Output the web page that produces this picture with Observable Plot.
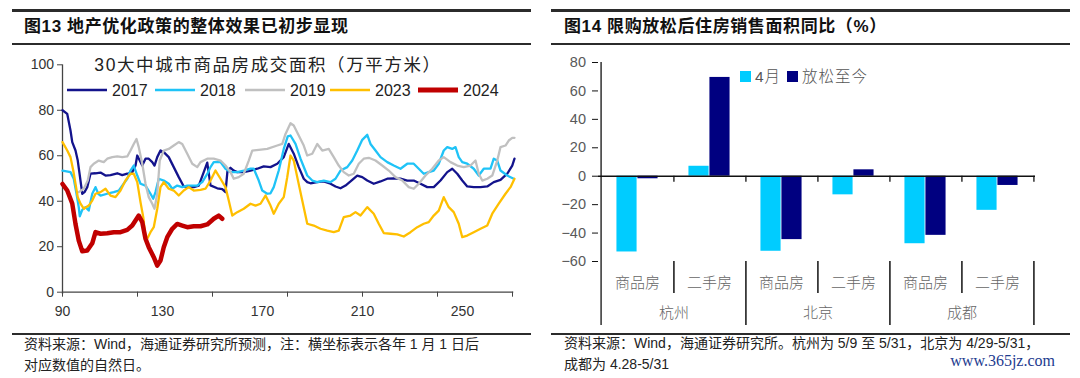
<!DOCTYPE html>
<html><head><meta charset="utf-8">
<script src="https://cdn.jsdelivr.net/npm/d3@7"></script>
<script src="https://cdn.jsdelivr.net/npm/@observablehq/plot@0.6"></script>
<style>
html,body{margin:0;padding:0;background:#fff;}
body{width:1080px;height:378px;position:relative;overflow:hidden;font-family:"Liberation Sans","Noto Sans CJK SC",sans-serif;}
.rule{position:absolute;background:#2b2b2b;}
.title{position:absolute;font-family:"Liberation Sans","Noto Sans CJK SC",sans-serif;font-weight:bold;font-size:17px;color:#111;line-height:19px;white-space:nowrap;letter-spacing:0.6px;}
.note{position:absolute;font-family:"Liberation Sans","Noto Sans CJK SC",sans-serif;font-size:14px;color:#222;line-height:21px;white-space:nowrap;}
.chart{position:absolute;}
</style></head><body>
<div class="rule" style="left:12px;top:9px;width:519px;height:2.5px"></div>
<div class="rule" style="left:12px;top:43px;width:519px;height:1.5px"></div>
<div class="rule" style="left:12px;top:333px;width:519px;height:1.5px"></div>
<div class="rule" style="left:551px;top:9px;width:519px;height:2.5px"></div>
<div class="rule" style="left:551px;top:43px;width:519px;height:1.5px"></div>
<div class="rule" style="left:551px;top:333px;width:519px;height:1.5px"></div>
<div class="title" style="left:24px;top:17px">图13 地产优化政策的整体效果已初步显现</div>
<div class="title" style="left:564px;top:17px">图14 限购放松后住房销售面积同比（%）</div>
<div class="note" style="left:24px;top:334px">资料来源：Wind，海通证券研究所预测，注：横坐标表示各年 1 月 1 日后<br>对应数值的自然日。</div>
<div class="note" style="left:564px;top:333px">资料来源：Wind，海通证券研究所。杭州为 5/9 至 5/31，北京为 4/29-5/31，<br>成都为 4.28-5/31</div>
<div style="position:absolute;left:900px;top:352px;width:155px;text-align:right;font-family:'Liberation Serif','DejaVu Serif',serif;font-size:16px;color:#1d3b8f;">www.365jz.com</div>
<div id="left" class="chart" style="left:0;top:50px"></div>
<div id="right" class="chart" style="left:540px;top:50px"></div>
<div id="overlay"></div>
<script>
// ---------- Left chart data: [day, value] ----------
const s2017 = [[90,80],[91.9,78.4],[93.2,71.1],[93.9,66],[95.2,62.3],[96.1,57.9],[97.2,49.1],[97.9,43.3],[98.8,44],[99.9,46.2],[101.2,52.1],[103.2,52.3],[105.2,52.6],[107.2,51.3],[109.2,51.5],[111.9,52.3],[113.9,51.5],[115.9,52.1],[117.9,52.8],[119.2,55.7],[119.9,60.1],[120.9,57.9],[121.9,55.7],[123.2,58.7],[124.5,58.7],[125.9,57.2],[126.8,55.7],[127.9,59.4],[129.2,62.3],[130.5,61.6],[132.5,59.4],[134.5,55],[136.5,50.6],[138.5,46.5],[140.5,46.2],[142.5,46.2],[144.5,46.9],[146.5,52.8],[147.9,57],[149.2,47],[151.9,45.7],[153.9,45.3],[155.2,44],[156,53.5],[157.2,54.7],[158.5,53.5],[159.9,52.8],[162.5,52.8],[165.2,53.5],[167.9,54.3],[170.5,55.3],[173.2,55],[175.9,56.5],[178.5,59.4],[180.5,65.2],[182.5,60.9],[184.5,55],[186.5,49.9],[187.9,48.4],[189.2,47.9],[191.9,48.4],[194.5,48.7],[197.2,47.7],[199.2,46.5],[201.2,45.7],[203.2,46.9],[205.2,48.7],[207.9,51.3],[209.9,50.6],[211.9,49.1],[214.5,47.7],[217.2,48.7],[219.9,49.9],[222.5,50.1],[225.2,49.9],[227.9,49.1],[230.5,49.1],[233.2,47.7],[235.9,46.2],[238.5,46.2],[241.2,49.1],[243.9,52.8],[245.9,54.3],[247.9,52.1],[249.9,49.1],[251.9,46.5],[254.5,46.2],[257.2,46.2],[259.9,46.5],[262.5,48.4],[265.2,49.4],[267.9,52.1],[269.9,55.7],[270.8,58.7]];
const s2018 = [[90,53.5],[93.2,52.8],[94.5,49.9],[95.6,43.3],[96.5,37.4],[96.9,33.4],[97.9,36.2],[99.2,37.4],[100.5,35.9],[101.9,43.3],[103.2,46.2],[104.3,43.3],[105.2,42.5],[107.9,43.3],[110.5,44],[112.5,44.7],[113.9,46.9],[115.9,49.9],[117.2,53.5],[118.5,55.7],[119.9,51.3],[121.2,47.7],[123.2,46.9],[125.2,43.3],[126.3,41.1],[127.2,44],[128.5,49.9],[130.5,49.1],[132.5,47.7],[133.9,45.5],[135.9,46.9],[137.9,46.2],[139.9,46.9],[141.9,46.9],[143.9,46.9],[145.9,48.4],[147.9,52],[149.2,55],[150.5,57.2],[153.2,57.2],[155.2,54.3],[157.2,52.8],[159.9,52.8],[162.5,53.5],[165.2,54.3],[166.5,54.3],[168.5,49.1],[169.9,44.7],[171.9,43.3],[173.2,43.5],[174.5,46.2],[176.5,53.5],[178.5,63],[180.1,68.5],[181.2,68.9],[183.2,65.2],[185.2,58.7],[187.9,51.3],[189.9,49.1],[191.9,48.4],[194.5,49.1],[197.2,48.4],[199.2,49.9],[201.2,53.5],[203.9,55],[205.9,57.9],[207.9,62.3],[209.9,67],[211.9,69.2],[213.2,65.2],[215.2,62.3],[217.2,59.4],[219.9,57.2],[222.5,55.7],[225.2,54.3],[227.9,56.5],[230.5,56.5],[232.5,54.3],[234.5,52.1],[236.5,52.8],[238.5,53.5],[240.5,56.5],[242.5,62.3],[243.9,63.8],[245.9,63],[247.2,63.8],[248.5,59.4],[249.9,57.2],[251.9,56.5],[254.5,54.3],[256.5,51.3],[258.5,54.3],[261.2,54.3],[262.5,58.7],[263.9,57.9],[265.2,53.5],[267.9,51.3],[270.5,49.9]];
const s2019 = [[96.5,44],[98.5,45.5],[100.1,49.1],[101.2,55],[102.5,56.5],[104.5,57.9],[106.5,57.2],[107.9,58.7],[109.9,59.4],[111.9,59.7],[113.9,59.4],[115.9,59.7],[117.2,62.3],[118.5,65.2],[119.6,67.4],[120.5,63.8],[121.9,56.5],[123.2,47.7],[124.5,41.8],[125.9,38.9],[126.8,36.7],[127.9,43.3],[128.9,57.9],[130.5,62.3],[132.5,63],[134.5,64.5],[136.5,66],[137.9,65.2],[139.9,60.9],[141.9,56.5],[143.9,55],[145.2,57.2],[147.9,58.7],[150.5,58.7],[153.2,57.9],[155.2,55.7],[157.2,52.8],[158.5,49.9],[160.5,50.6],[162.5,52.1],[164.5,57.9],[165.9,62.3],[168.5,62.6],[171.9,63],[175.9,64.5],[177.9,65.2],[179.2,69.6],[181.2,74.3],[182.5,73.3],[184.5,68.9],[186.5,64.5],[187.9,60.1],[189.9,60.9],[191.9,65.2],[193.9,62.3],[196.5,63],[198.5,59.4],[200.5,55.7],[202.5,52.8],[204.5,51.3],[206.5,52.1],[208.5,56.5],[210.5,58.7],[212.5,59.1],[215.2,57.9],[217.9,55.7],[220.5,53.5],[223.2,50.6],[225.9,49.1],[228.5,46.2],[230.5,45.5],[232.5,47.7],[235.2,51.3],[237.9,54.3],[240.5,57.9],[242.5,59.4],[245.2,57.2],[247.9,55.7],[250.5,55],[253.2,55.7],[255.2,57.9],[256.5,52.1],[257.9,49.1],[259.9,49.9],[261.9,51.3],[263.9,57.9],[265.2,63.8],[267.2,64.5],[268.5,66.7],[269.9,67.9],[270.8,67.9]];
const s2023 = [[90,66],[91.9,62.3],[93.2,59.4],[94.3,53.5],[95.2,47.7],[96.1,41.8],[97.2,38.9],[98.5,36.7],[100.5,38.1],[101.9,40.3],[103.2,43.3],[105.2,44],[107.2,45.5],[109.2,42.5],[111.2,41.8],[113.2,44.7],[115.2,49.1],[117.2,52.1],[118.5,52.1],[119.9,48.4],[121.2,39.6],[122.3,33],[123.2,24.2],[123.9,23.5],[125.2,26.4],[126.5,28.6],[127.9,36.7],[129.2,46.2],[130.5,48.4],[132.5,45.5],[134.5,44.7],[136.5,42.5],[138.5,44.7],[140.5,46.2],[142.5,44.7],[145.2,45],[147.2,45.5],[149.2,49.1],[151.2,53.5],[153.2,49.9],[155.2,46.2],[156.5,40.3],[157.9,33.7],[159.9,35.2],[162.5,36.7],[165.2,38.9],[167.2,38.1],[169.2,38.9],[171.2,42.5],[173.2,38.1],[174.5,34.5],[176.5,38.9],[178.5,41.8],[179.9,50.6],[181.2,60.1],[182.5,57.9],[183.9,50.6],[185.9,40.3],[187.9,30.1],[190.5,29.3],[193.2,27.9],[195.9,27.1],[198.5,26.4],[200.5,27.1],[202.5,33],[205.2,33.7],[207.2,35.2],[209.2,33.7],[211.9,37.4],[214.5,34.5],[216.5,30.1],[218.5,26],[221.2,25.7],[223.9,25.4],[226.5,24.5],[229.2,26.4],[231.9,28.6],[234.5,30.1],[236.5,30.8],[238.5,33.7],[240.5,35.9],[242.5,41.8],[244.5,37.4],[246.5,35.2],[248.5,30.1],[249.9,24.2],[251.9,24.9],[254.5,26.4],[257.2,27.9],[259.9,29.3],[261.9,34.5],[264.5,38.9],[267.2,43.3],[269.2,46.2],[270.8,49.9]];
const s2024 = [[90,47.6],[91.9,44.7],[93.9,39],[95.2,30],[96.5,22.7],[97.9,18],[99.9,18.3],[101.9,21.5],[103.2,26.4],[105.2,25.7],[107.9,25.9],[110.5,26.4],[113.2,26.4],[115.9,27.4],[117.9,29.3],[119.2,31.5],[120.5,33.7],[121.9,30.8],[123.2,23.5],[124.5,19.8],[126.5,15.4],[127.9,11.7],[129.2,13.9],[130.5,19.8],[131.9,24.2],[133.9,27.9],[135.9,30],[137.9,29.3],[139.9,28.6],[142.5,29],[145.2,29],[147.9,29.8],[150.5,32.3],[152.5,33.7],[153.9,32.3]];
const years = ["2017","2018","2019","2023","2024"];
const yearColors = ["#13138c","#1fc3f7","#c0c0c0","#ffbf00","#c00000"];
const yearWidths = [2.3,2.3,2.3,2.3,4.5];
const xLabelTicks = [90,130,170,210,250];
const xMarkTicks = [90,120,150,180,210,240,270];
const yTicksLeft = [0,20,40,60,80,100];

// ---------- Right chart data ----------
const cities = ["杭州","北京","成都"];
const types = ["商品房","二手房"];
const seriesNames = ["4月","放松至今"];
const valApril = [-53.3, 7, -52.8, -13.1, -47.5, -24];
const valSince = [-1.8, 69.5, -44.6, 4.5, -41.6, -6.5];
const yTicksRight = [-60,-40,-20,0,20,40,60,80];

// ---------- Left chart ----------
const allSeries = [s2017, s2018, s2019, s2023, s2024];
const rows = allSeries.flatMap((s, k) => s.map(([d, v]) => ({year: years[k], day: d, value: v})));
const left = Plot.plot({
  width: 540, height: 280,
  marginLeft: 62, marginRight: 26.75, marginTop: 14.3, marginBottom: 38.3,
  x: {domain: [90, 270.5]},
  y: {domain: [0, 100]},
  style: {fontFamily: "Liberation Sans, Arial, sans-serif", fontSize: "14px", color: "#333", background: "transparent", overflow: "visible"},
  marks: [
    Plot.axisY({ticks: yTicksLeft, tickSize: 5, tickPadding: 3.5, fontSize: 14, label: null, stroke: "#444"}),
    Plot.axisX({ticks: xMarkTicks, tickSize: 5, tickFormat: () => "", label: null, stroke: "#444"}),
    Plot.axisX({ticks: xLabelTicks, tickSize: 0, tickPadding: 14, fontSize: 14, label: null}),
    Plot.ruleX([90], {y1: -1, y2: 100, stroke: "#444", strokeWidth: 1.3}),
    Plot.ruleY([0], {stroke: "#444", strokeWidth: 1.3}),
    ...years.map((yr, k) => Plot.line(rows.filter(r => r.year === yr), {
      x: "day", y: "value", stroke: yearColors[k], strokeWidth: yearWidths[k],
      strokeLinejoin: "round", strokeLinecap: "round"
    }))
  ]
});
document.getElementById("left").append(left);

// ---------- Right chart ----------
const cats = cities.flatMap(c => types.map(t => c + "|" + t));
const barRows = cats.map((k, i) => ({cat: k, city: k.split("|")[0], type: k.split("|")[1], april: valApril[i], since: valSince[i]}));
const rW = 540, rL = 58, rR = 45;
const step = (rW - rL - rR) / cats.length;
const barW = step * 0.288;
const outer = (step - 2 * barW) / 2;
const right = Plot.plot({
  width: rW, height: 280,
  marginLeft: rL, marginRight: rR, marginTop: 12, marginBottom: 69,
  x: {type: "band", domain: cats, padding: 0, axis: null},
  y: {domain: [-60, 80]},
  style: {fontFamily: "Liberation Sans, Arial, sans-serif", fontSize: "14px", color: "#595959", background: "transparent", overflow: "visible"},
  marks: [
    Plot.barY(barRows, {x: "cat", y: "april", fill: "#00ccff", insetLeft: outer, insetRight: outer + barW}),
    Plot.barY(barRows, {x: "cat", y: "since", fill: "#000080", insetLeft: outer + barW, insetRight: outer}),
    Plot.axisY({ticks: yTicksRight, tickSize: 6, tickPadding: 6.5, fontSize: 14.5, label: null, stroke: "#111"}),
    Plot.ruleY([0], {stroke: "#111", strokeWidth: 1.4}),
    Plot.ruleX([cats[0]], {dx: -step / 2, y1: -105, y2: 80, stroke: "#111", strokeWidth: 1.3}),
    Plot.ruleX(cats, {dx: step / 2, y1: 0, y2: -4.3, stroke: "#111", strokeWidth: 1.3}),
    Plot.ruleX(cats.filter((_, i) => i % 2 === 0), {dx: step / 2, y1: -60, y2: -82.5, stroke: "#111", strokeWidth: 1.5}),
    Plot.ruleX(cats.filter((_, i) => i % 2 === 1), {dx: step / 2, y1: -60, y2: -105, stroke: "#111", strokeWidth: 1.5}),
    Plot.text(barRows, {x: "cat", y: () => -75.5, text: "type", fill: "#666", fontSize: 15, fontFamily: "Noto Sans CJK SC", fontWeight: 300, letterSpacing: 1.5}),
    Plot.text(barRows.filter((_, i) => i % 2 === 0), {x: "cat", dx: step / 2, y: () => -96.6, text: "city", fill: "#666", fontSize: 15, fontFamily: "Noto Sans CJK SC", fontWeight: 300, letterSpacing: 1.5})
  ]
});
document.getElementById("right").append(right);

// ---------- Overlays: titles and legends ----------
const ns = "http://www.w3.org/2000/svg";
const ov = document.createElementNS(ns, "svg");
ov.setAttribute("width", 1080); ov.setAttribute("height", 378);
ov.setAttribute("style", "position:absolute;left:0;top:0;pointer-events:none;");
function el(tag, attrs, text) {
  const e = document.createElementNS(ns, tag);
  for (const k in attrs) e.setAttribute(k, attrs[k]);
  if (text != null) e.textContent = text;
  ov.appendChild(e);
  return e;
}
el("text", {x: 268, y: 71, "text-anchor": "middle", "font-size": 17.5, "letter-spacing": 1.6, "font-family": "Liberation Sans, Noto Sans CJK SC", fill: "#222"}, "30大中城市商品房成交面积（万平方米）");
const legX = [67, 155, 245, 330, 418];
years.forEach((yr, k) => {
  el("line", {x1: legX[k], x2: legX[k] + 40, y1: 90, y2: 90, stroke: yearColors[k], "stroke-width": yearWidths[k] + 0.3});
  el("text", {x: legX[k] + 45, y: 95.5, "font-size": 16, "font-family": "Liberation Sans, Arial", fill: "#222"}, yr);
});
const rColors = ["#00ccff", "#000080"];
const rLegX = [740, 787];
seriesNames.forEach((nm, k) => {
  el("rect", {x: rLegX[k], y: 71, width: 11, height: 11, fill: rColors[k]});
  el("text", {x: rLegX[k] + 15, y: 82, "font-size": 15.5, "font-family": "Liberation Sans, Noto Sans CJK SC", "font-weight": 300, fill: "#555", "letter-spacing": 1}, nm);
});
document.getElementById("overlay").appendChild(ov);
</script>
</body></html>
